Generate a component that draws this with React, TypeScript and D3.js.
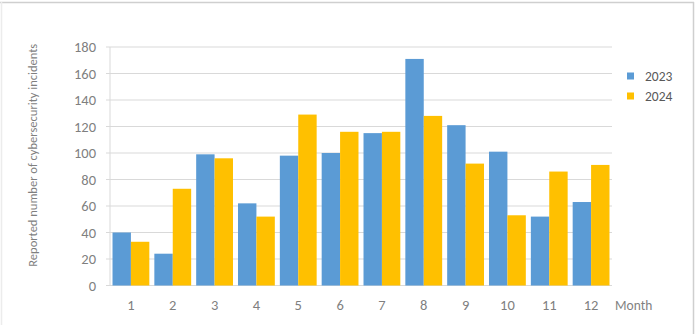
import React from "react";
import * as d3 from "d3";

const months = ["1", "2", "3", "4", "5", "6", "7", "8", "9", "10", "11", "12"];
const series2023 = [40, 24, 99, 62, 98, 100, 115, 171, 121, 101, 52, 63];
const series2024 = [33, 73, 96, 52, 129, 116, 116, 128, 92, 53, 86, 91];
const yTicks = [0, 20, 40, 60, 80, 100, 120, 140, 160, 180];
const seriesNames = ["2023", "2024"];
const colors = ["#5B9BD5", "#FFC000"];

export default function App() {
  const W = 698, H = 334;
  const left = 110, right = 612, top = 47, bottom = 285.5;
  const x = d3.scaleBand().domain(months).range([left, right]).paddingInner(0.12).paddingOuter(0.06);
  const xs = d3.scaleBand().domain(seriesNames).range([0, x.bandwidth()]);
  const y = d3.scaleLinear().domain([0, 180]).range([bottom, top]);
  const data = [series2023, series2024];
  const font = "Calibri, Carlito, 'Liberation Sans', 'Open Sans', sans-serif";

  return (
    <svg width={W} height={H} style={{ position: "absolute", left: 0, top: 0, background: "#fff" }} fontFamily={font}>
      <rect x={0} y={0} width={W} height={H} fill="#fff" />
      <line x1={0} x2={694} y1={2.5} y2={2.5} stroke="#cfcfcf" strokeWidth={1.5} />
      <line x1={693.5} x2={693.5} y1={2} y2={334} stroke="#cfcfcf" strokeWidth={1.5} />
      <line x1={1.5} x2={1.5} y1={2} y2={325} stroke="#ececec" strokeWidth={1.5} />
      {yTicks.map((t) => (
        <g key={t}>
          <line x1={left - 4} x2={right} y1={y(t)} y2={y(t)} stroke="#d9d9d9" strokeWidth={1} />
          <text x={96} y={y(t)} dy="0.35em" textAnchor="end" fontSize={14.5} fill="#7f7f7f">{t}</text>
        </g>
      ))}
      <line x1={left} x2={left} y1={top} y2={bottom} stroke="#d9d9d9" strokeWidth={1} />
      {months.map((m, i) => (
        <g key={m}>
          {data.map((s, k) => (
            <rect
              key={k}
              x={(x(m) as number) + (xs(seriesNames[k]) as number)}
              y={y(s[i])}
              width={xs.bandwidth()}
              height={bottom - y(s[i])}
              fill={colors[k]}
            />
          ))}
          <text x={(x(m) as number) + x.bandwidth() / 2} y={305} dy="0.35em" textAnchor="middle" fontSize={14.5} fill="#7f7f7f">{m}</text>
        </g>
      ))}
      <text x={615} y={305} dy="0.35em" fontSize={13.5} fill="#7f7f7f">Month</text>
      <text transform={`translate(37,${(top + bottom) / 2 - 11}) rotate(-90)`} textAnchor="middle" fontSize={12.5} fill="#7f7f7f">
        Reported number of cybersecurity incidents
      </text>
      {seriesNames.map((n, k) => (
        <g key={n} transform={`translate(627,${76 + k * 20})`}>
          <rect x={0} y={-3.5} width={7} height={7} fill={colors[k]} />
          <text x={18} y={0} dy="0.35em" fontSize={13.5} fill="#595959">{n}</text>
        </g>
      ))}
    </svg>
  );
}
